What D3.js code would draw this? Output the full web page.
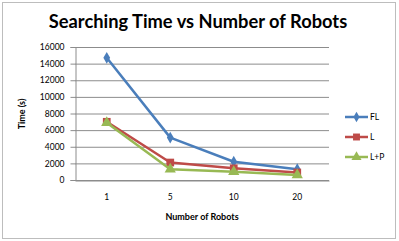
<!DOCTYPE html>
<html><head><meta charset="utf-8">
<script src="https://cdn.jsdelivr.net/npm/d3@7"></script>
<style>body{margin:0;background:#fff}svg{display:block}</style>
</head><body>
<svg id="c" width="399" height="241"></svg>
<script>
const categories = ["1", "5", "10", "20"];
const seriesNames = ["FL", "L", "L+P"];
const FL = [14700, 5100, 2200, 1300];
const L = [7000, 2100, 1400, 900];
const LP = [6900, 1300, 1000, 600];
const yTicks = [0, 2000, 4000, 6000, 8000, 10000, 12000, 14000, 16000];
const title = "Searching Time vs Number of Robots";
const xTitle = "Number of Robots";
const yTitle = "Time (s)";

(function () {
const series = [
  {name: seriesNames[0], values: FL, color: "#4A7EBB", shape: d3.symbolDiamond, size: 40},
  {name: seriesNames[1], values: L, color: "#BE4B48", shape: d3.symbolSquare, size: 60},
  {name: seriesNames[2], values: LP, color: "#98B954", shape: d3.symbolTriangle, size: 55}
];

const svg = d3.select("#c");
const font = "Lato, 'Open Sans', sans-serif";
svg.append("rect").attr("x", 2.5).attr("y", 2.5).attr("width", 393).attr("height", 236)
  .attr("fill", "#fff").attr("stroke", "#bdbdbd");

const pl = 75, pr = 329, pt = 47, pb = 180;
const x = d3.scaleBand().domain(categories).range([pl, pr]);
const y = d3.scaleLinear().domain([0, 16000]).range([pb, pt]);

svg.append("g").selectAll("line").data(yTicks).join("line")
  .attr("x1", pl).attr("x2", pr)
  .attr("y1", d => y(d) + 0.5).attr("y2", d => y(d) + 0.5)
  .attr("stroke", "#8c8c8c").attr("stroke-width", 1);

const ya = svg.append("g").attr("transform", `translate(${pl + 0.5},0)`)
  .call(d3.axisLeft(y).tickValues(yTicks).tickSize(5).tickPadding(6).tickFormat(d3.format("d")));
ya.select(".domain").attr("stroke", "#8c8c8c");
ya.selectAll(".tick line").attr("stroke", "#8c8c8c");
ya.selectAll("text").attr("font-family", font).attr("font-size", 8.5).attr("fill", "#000");

const xa = svg.append("g").attr("transform", `translate(0,${pb + 0.5})`)
  .call(d3.axisBottom(x).tickSize(0).tickPadding(13));
xa.select(".domain").attr("stroke", "#8c8c8c");
xa.selectAll("text").attr("font-family", font).attr("font-size", 8.5).attr("fill", "#000");

const line = d3.line().x((d, i) => x(categories[i]) + x.bandwidth() / 2).y(d => y(d));
series.forEach(s => {
  svg.append("path").datum(s.values).attr("d", line)
    .attr("fill", "none").attr("stroke", s.color).attr("stroke-width", 2.5).attr("stroke-linejoin", "round");
  svg.append("g").selectAll("path").data(s.values).join("path")
    .attr("d", d3.symbol().type(s.shape).size(s.size))
    .attr("transform", (d, i) => `translate(${x(categories[i]) + x.bandwidth() / 2},${y(d)})`)
    .attr("fill", s.color);
});

svg.append("text").attr("x", 198).attr("y", 28).attr("text-anchor", "middle")
  .attr("font-family", font).attr("font-weight", "bold").attr("font-size", 18.3).text(title);
svg.append("text").attr("x", 202).attr("y", 220).attr("text-anchor", "middle")
  .attr("font-family", font).attr("font-weight", "bold").attr("font-size", 9).text(xTitle);
svg.append("text").attr("transform", "translate(25,114) rotate(-90)").attr("text-anchor", "middle")
  .attr("font-family", font).attr("font-weight", "bold").attr("font-size", 9).text(yTitle);

const lg = svg.append("g");
series.forEach((s, i) => {
  const ly = 117 + i * 20;
  lg.append("line").attr("x1", 345).attr("x2", 368).attr("y1", ly).attr("y2", ly)
    .attr("stroke", s.color).attr("stroke-width", 2.5);
  lg.append("path").attr("d", d3.symbol().type(s.shape).size(s.size * 0.8))
    .attr("transform", `translate(356.5,${ly})`).attr("fill", s.color);
  lg.append("text").attr("x", 370).attr("y", ly + 3).attr("font-family", font)
    .attr("font-size", 8.5).attr("fill", "#000").text(s.name);
});
})();
</script>
</body></html>
